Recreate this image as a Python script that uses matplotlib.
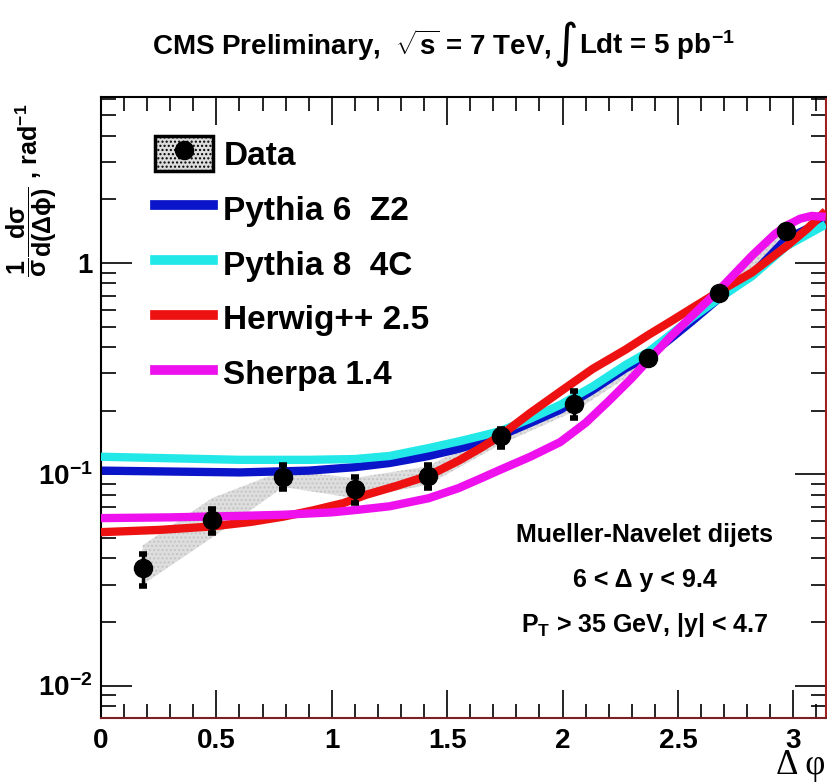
import matplotlib
matplotlib.use("Agg")
import matplotlib.pyplot as plt
from matplotlib.patches import Patch
from matplotlib.lines import Line2D
from matplotlib.ticker import FixedLocator, NullFormatter, MultipleLocator

# ---------------- data ----------------
data_x = [0.18, 0.48, 0.79, 1.10, 1.415, 1.735, 2.05, 2.37, 2.68, 2.97]
data_y = [0.036, 0.061, 0.097, 0.0855, 0.0985, 0.151, 0.216, 0.353, 0.718, 1.42]
stat_lo = [0.0297, 0.0525, 0.0855, 0.0733, 0.0865, 0.135, 0.184, 0.342, 0.70, 1.38]
stat_hi = [0.0420, 0.0688, 0.111, 0.0975, 0.111, 0.163, 0.248, 0.365, 0.74, 1.46]
syst_lo = [0.030, 0.050, 0.087, 0.077, 0.089, 0.139, 0.198, 0.333, 0.685, 1.35]
syst_hi = [0.046, 0.077, 0.104, 0.096, 0.109, 0.164, 0.234, 0.374, 0.755, 1.49]

py6_x = [0.0, 0.3, 0.6, 0.9, 1.1, 1.25, 1.42, 1.55, 1.65, 1.73, 1.86, 1.99, 2.13, 2.275, 2.37, 2.47, 2.56, 2.68, 2.82, 2.97, 3.06, 3.14]
py6_y = [0.104, 0.103, 0.102, 0.104, 0.108, 0.113, 0.122, 0.132, 0.142, 0.152, 0.175, 0.202, 0.25, 0.318, 0.361, 0.44, 0.529, 0.683, 0.88, 1.30, 1.45, 1.62]

py8_x = [0.0, 0.3, 0.6, 0.9, 1.1, 1.25, 1.42, 1.55, 1.65, 1.73, 1.86, 1.99, 2.13, 2.275, 2.37, 2.47, 2.56, 2.68, 2.82, 2.97, 3.06, 3.14]
py8_y = [0.121, 0.119, 0.117, 0.117, 0.118, 0.122, 0.133, 0.143, 0.152, 0.160, 0.183, 0.213, 0.26, 0.330, 0.378, 0.46, 0.549, 0.683, 0.864, 1.20, 1.36, 1.52]

hw_x = [0.0, 0.25, 0.48, 0.65, 0.79, 0.92, 1.05, 1.15, 1.28, 1.42, 1.55, 1.65, 1.73, 1.86, 1.99, 2.13, 2.275, 2.37, 2.47, 2.56, 2.68, 2.82, 2.97, 3.06, 3.14]
hw_y = [0.0532, 0.0545, 0.0566, 0.0595, 0.063, 0.0675, 0.073, 0.080, 0.088, 0.0985, 0.116, 0.134, 0.152, 0.195, 0.246, 0.315, 0.39, 0.455, 0.53, 0.61, 0.734, 0.90, 1.20, 1.45, 1.76]

sh_x = [0.0, 0.3, 0.6, 0.79, 1.0, 1.12, 1.25, 1.42, 1.55, 1.65, 1.73, 1.86, 1.99, 2.1, 2.2, 2.3, 2.37, 2.47, 2.56, 2.68, 2.82, 2.92, 2.97, 3.03, 3.08, 3.14]
sh_y = [0.062, 0.0625, 0.0635, 0.0643, 0.066, 0.068, 0.0705, 0.077, 0.086, 0.096, 0.105, 0.121, 0.142, 0.175, 0.222, 0.285, 0.345, 0.45, 0.56, 0.748, 1.08, 1.37, 1.50, 1.62, 1.67, 1.65]

x_ticks = [0, 0.5, 1, 1.5, 2, 2.5, 3]
x_ticklabels = ["0", "0.5", "1", "1.5", "2", "2.5", "3"]
y_ticks = [0.01, 0.1, 1]
y_ticklabels = [r"10$^{-2}$", r"10$^{-1}$", "1"]

# ---------------- fonts ----------------
SANS = "Liberation Sans"
plt.rcParams["font.family"] = [SANS, "DejaVu Sans"]
plt.rcParams["font.weight"] = "bold"
plt.rcParams["mathtext.fontset"] = "custom"
plt.rcParams["mathtext.rm"] = SANS + ":bold"
plt.rcParams["mathtext.it"] = SANS + ":bold"
plt.rcParams["mathtext.bf"] = SANS + ":bold"

W, H = 827, 782
fig = plt.figure(figsize=(W / 100, H / 100), dpi=100)
L, R, T, B = 101, 826, 97, 718
ax = fig.add_axes([L / W, (H - B) / H, (R - L) / W, (B - T) / H])
ax.set_yscale("log")
ax.set_xlim(0, 3.1416)
ax.set_ylim(0.00702, 6.1)

# systematic band
ax.fill_between(data_x, syst_lo, syst_hi, facecolor="#dedede", edgecolor="#c4c4c4",
                hatch="....", linewidth=0, zorder=1)

lw = 6
kw = dict(lw=lw, solid_capstyle="butt", solid_joinstyle="round")
ax.plot(py6_x, py6_y, color="#0a14c8", zorder=2, **kw)
ax.plot(py8_x, py8_y, color="#22e8e8", zorder=3, **kw)
ax.plot(hw_x, hw_y, color="#ee1111", zorder=4, **kw)
ax.plot(sh_x, sh_y, color="#ee11ee", zorder=5, **kw)

yerr = [[y - lo for y, lo in zip(data_y, stat_lo)], [hi - y for y, hi in zip(data_y, stat_hi)]]
ax.errorbar(data_x, data_y, yerr=yerr, fmt="o", color="black", ms=13,
            elinewidth=2.5, capsize=3, capthick=4, zorder=6)

# ticks
ax.xaxis.set_major_locator(FixedLocator(x_ticks))
ax.set_xticklabels(x_ticklabels)
ax.xaxis.set_minor_locator(MultipleLocator(0.1))
ax.yaxis.set_major_locator(FixedLocator(y_ticks))
ax.set_yticklabels(y_ticklabels)
ax.yaxis.set_minor_formatter(NullFormatter())
ax.tick_params(which="both", direction="in", top=True, right=True)
ax.tick_params(which="major", axis="x", length=20, width=1.2, labelsize=20, pad=7)
ax.tick_params(which="minor", axis="x", length=10, width=1.2)
ax.tick_params(which="major", axis="y", length=22, width=1.2, labelsize=20, pad=6)
ax.tick_params(which="minor", axis="y", length=11, width=1.2)
for lab in ax.get_xticklabels() + ax.get_yticklabels():
    lab.set_fontweight("bold")
for s in ax.spines.values():
    s.set_linewidth(1.5)
ax.spines["right"].set_color("#a02020")
ax.spines["bottom"].set_color("#7a2020")

# legend
data_handle = (Patch(facecolor="#dcdcdc", edgecolor="black", linewidth=2.5, hatch="...."),
               Line2D([], [], marker="o", color="black", ls="none", ms=13))
handles = [data_handle,
           Line2D([], [], color="#0a14c8", lw=7),
           Line2D([], [], color="#22e8e8", lw=7),
           Line2D([], [], color="#ee1111", lw=7),
           Line2D([], [], color="#ee11ee", lw=7)]
labels = ["Data", "Pythia 6  Z2", "Pythia 8  4C", "Herwig++ 2.5", "Sherpa 1.4"]
leg = ax.legend(handles, labels, loc="upper left", bbox_to_anchor=(155 / W, (H - 136) / H),
                bbox_transform=fig.transFigure, frameon=False, fontsize=24,
                handlelength=1.75, handleheight=1.25, handletextpad=0.3, labelspacing=0.57,
                borderpad=0, borderaxespad=0)
for t in leg.get_texts():
    t.set_fontweight("bold")

# title built from pieces so the integral sign can be tall
renderer = fig.canvas.get_renderer()
title_y = (H - 45) / H
t1 = fig.text(152 / W, title_y, r"CMS Preliminary,  $\sqrt{s}$ = 7 TeV, ",
              ha="left", va="center", fontsize=20, fontweight="bold")
x_end = t1.get_window_extent(renderer).x1
t2 = fig.text(x_end / W, (H - 44) / H, "\u222b", ha="left", va="center", fontsize=34,
              family=["DejaVu Sans"], fontweight="normal")
x_end2 = t2.get_window_extent(renderer).x1
fig.text((x_end2 + 1) / W, title_y, r"Ldt = 5 pb$^{-1}$",
         ha="left", va="center", fontsize=20, fontweight="bold")

fig.text(32 / W, (H - 190) / H,
         r"$\dfrac{1}{\sigma}\dfrac{d\sigma}{d(\Delta\phi)}$ , rad$^{-1}$",
         rotation=90, ha="center", va="center", fontsize=18, fontweight="bold")
fig.text(825 / W, (H - 765) / H, "\u0394 \u03c6", ha="right", va="center", fontsize=25,
         family=["Liberation Serif", "DejaVu Serif"], fontweight="normal")
notes = ["Mueller-Navelet dijets", "6 < \u0394 y < 9.4", r"P$_{\mathregular{T}}$ > 35 GeV, |y| < 4.7"]
for txt, ypx in zip(notes, [535, 580, 625]):
    fig.text(645 / W, (H - ypx) / H, txt, ha="center", va="center", fontsize=18, fontweight="bold")

fig.savefig("out.png", dpi=100)
